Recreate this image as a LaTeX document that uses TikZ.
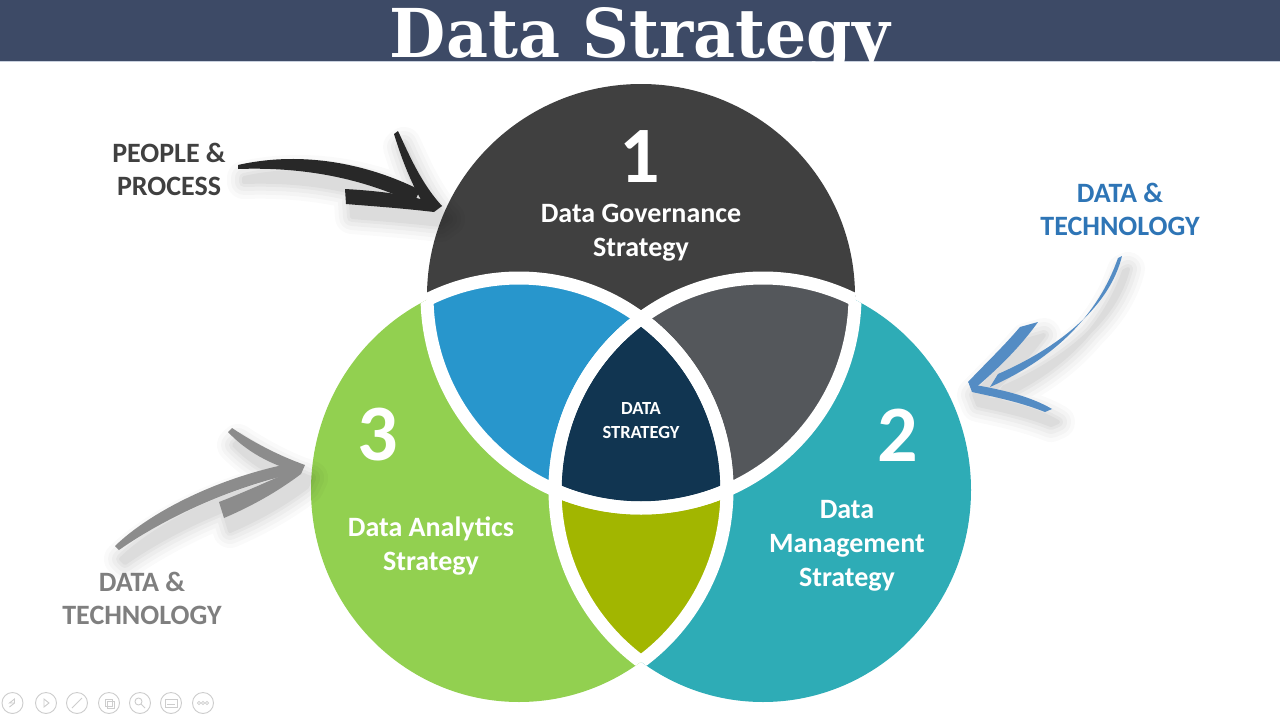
\documentclass[tikz,border=0pt]{standalone}
\usepackage{fontspec}
\usepackage{graphicx}
\newfontfamily\lab{Carlito}
\newfontfamily\ttl{DejaVu Serif}
\definecolor{barcol}{RGB}{61,74,102}
\definecolor{topcol}{RGB}{64,64,64}
\definecolor{greencol}{RGB}{146,208,80}
\definecolor{tealcol}{RGB}{46,172,182}
\definecolor{bluecol}{RGB}{40,150,204}
\definecolor{graycol}{RGB}{84,87,91}
\definecolor{olivecol}{RGB}{162,182,0}
\definecolor{navycol}{RGB}{17,53,81}
\definecolor{ppcol}{RGB}{64,64,64}
\definecolor{dtblue}{RGB}{46,117,182}
\definecolor{dtgray}{RGB}{127,127,127}
\definecolor{arblue}{RGB}{84,140,196}
\definecolor{argray}{RGB}{140,140,140}
\definecolor{arblack}{RGB}{40,40,40}
\definecolor{iconcol}{RGB}{205,205,205}
% brush arrows, each drawn as three filled pieces
\newcommand\arrK[1]{%
  \fill[#1] (238,165) .. controls (295,152) and (360,160) .. (420,190) -- (414,203) .. controls (355,175) and (295,167) .. (238,169) -- cycle;
  \fill[#1] (398,131) .. controls (408,152) and (420,182) .. (442,206) -- (426,208) .. controls (412,186) and (402,160) .. (394,134) -- cycle;
  \fill[#1] (345,189) .. controls (380,191) and (415,195) .. (442,206) -- (434,212) .. controls (400,208) and (370,206) .. (346,204) -- cycle;}
\newcommand\arrB[1]{%
  \fill[#1] (1122,256) .. controls (1110,305) and (1062,346) .. (998,374) -- (990,387) .. controls (1055,358) and (1098,315) .. (1118,258) -- cycle;
  \fill[#1] (1020,327) -- (1038,322) .. controls (1018,350) and (994,372) .. (973,390) -- (968,382) .. controls (985,364) and (1004,346) .. (1020,327) -- cycle;
  \fill[#1] (969,384) .. controls (1000,389) and (1030,396) .. (1052,409) -- (1045,412) .. controls (1020,402) and (995,397) .. (972,392) -- cycle;}
\newcommand\arrG[1]{%
  \fill[#1] (115,546) .. controls (150,512) and (220,476) .. (298,462) -- (296,473) .. controls (220,490) and (156,524) .. (119,550) -- cycle;
  \fill[#1] (232,428) .. controls (256,444) and (280,456) .. (305,465) -- (297,472) .. controls (270,464) and (247,452) .. (228,432) -- cycle;
  \fill[#1] (219,502) .. controls (250,490) and (280,476) .. (305,465) -- (301,474) .. controls (277,492) and (252,506) .. (224,518) -- cycle;}
\newcommand\softshadow[1]{%
  \foreach \w/\o in {34/0.018,26/0.022,18/0.028,10/0.032,4/0.036}{%
    \begin{scope}[shift={(6,13)},transparency group,opacity=\o]
      #1{black,draw=black,line width=\w pt,line join=round}
    \end{scope}}}
\begin{document}
\begin{tikzpicture}[x=1pt,y=-1pt,
  band/.style={draw=white,line width=13pt},
  lbl/.style={text=white,font=\lab\bfseries\fontsize{28}{34}\selectfont,align=center,inner sep=0pt},
  num/.style={text=white,font=\lab\bfseries\fontsize{80}{80}\selectfont,inner sep=0pt},
  small/.style={text=white,font=\lab\bfseries\fontsize{18.5}{24}\selectfont,align=center,inner sep=0pt},
  side/.style={font=\lab\bfseries\fontsize{28}{33}\selectfont,align=center,inner sep=0pt},
  icon/.style={draw=iconcol,line width=0.9pt}]
\useasboundingbox (0,0) rectangle (1280,720);
\fill[white] (0,0) rectangle (1280,720);
% title bar
\fill[barcol] (0,0) rectangle (1280,61);
\draw[color={rgb,255:red,200;green,208;blue,222},line width=1.2pt] (0,61.5) -- (1280,61.5);
\node[anchor=base,inner sep=0pt,text=white] (title) at (640,57) {\resizebox{500pt}{50pt}{\ttl\bfseries Data Strategy}};

% base circles
\fill[greencol] (519,490) ellipse [x radius=208pt, y radius=212pt];
\fill[tealcol] (763,490) ellipse [x radius=208pt, y radius=212pt];
\fill[topcol] (641,296) ellipse [x radius=214pt, y radius=212pt];
% pairwise intersections
\begin{scope}
  \clip (519,490) ellipse [x radius=208pt, y radius=212pt];
  \fill[bluecol] (641,296) ellipse [x radius=214pt, y radius=212pt];
\end{scope}
\begin{scope}
  \clip (763,490) ellipse [x radius=208pt, y radius=212pt];
  \fill[graycol] (641,296) ellipse [x radius=214pt, y radius=212pt];
\end{scope}
\begin{scope}
  \clip (519,490) ellipse [x radius=208pt, y radius=212pt];
  \fill[olivecol] (763,490) ellipse [x radius=208pt, y radius=212pt];
\end{scope}
\begin{scope}
  \clip (519,490) ellipse [x radius=208pt, y radius=212pt];
  \clip (763,490) ellipse [x radius=208pt, y radius=212pt];
  \fill[navycol] (641,296) ellipse [x radius=214pt, y radius=212pt];
\end{scope}
% white bands inside the other circles
\begin{scope}
  \clip (519,490) ellipse [x radius=208pt, y radius=212pt];
  \draw[band] (641,296) ellipse [x radius=214pt, y radius=212pt];
  \draw[band] (763,490) ellipse [x radius=208pt, y radius=212pt];
\end{scope}
\begin{scope}
  \clip (763,490) ellipse [x radius=208pt, y radius=212pt];
  \draw[band] (641,296) ellipse [x radius=214pt, y radius=212pt];
  \draw[band] (519,490) ellipse [x radius=208pt, y radius=212pt];
\end{scope}
\begin{scope}
  \clip (641,296) ellipse [x radius=214pt, y radius=212pt];
  \draw[band] (519,490) ellipse [x radius=208pt, y radius=212pt];
  \draw[band] (763,490) ellipse [x radius=208pt, y radius=212pt];
\end{scope}

% circle texts
\node[num] (n1) at (640,157) {1};
\node[lbl] (gov) at (641,233) {Data Governance\\Strategy};
\node[num] (n2) at (898,435) {2};
\node[lbl] (man) at (847,546) {Data\\Management\\Strategy};
\node[num] (n3) at (378,435) {3};
\node[lbl] (ana) at (431,546) {Data Analytics\\Strategy};
\node[small] (ds) at (641,421) {DATA\\STRATEGY};

% side labels
\node[side,text=ppcol] (pp) at (169,169) {PEOPLE \&\\PROCESS};
\node[side,text=dtblue] (dtr) at (1120,209) {DATA \&\\TECHNOLOGY};
\node[side,text=dtgray] (dtl) at (142,598) {DATA \&\\TECHNOLOGY};

% brush arrows with soft shadows
\softshadow{\arrK}
\softshadow{\arrB}
\softshadow{\arrG}
\arrK{arblack}
\arrB{arblue}
\arrG{argray}

% slideshow controls (bottom left)
\foreach \cx/\nm in {12.5/i1,46/i2,77/i3,109/i4,140/i5,171/i6,203/i7}{
  \node[icon,circle,minimum size=21pt,inner sep=0pt] (\nm) at (\cx,703) {};
}
\draw[icon] ([xshift=2pt]i1.center) -- ([xshift=-3pt]i1.center) -- ([xshift=2pt,yshift=4pt]i1.center) -- cycle;
\draw[icon] ([xshift=-3pt,yshift=-4pt]i1.center) -- ([xshift=2pt]i1.center);
\draw[icon] ([xshift=-2pt,yshift=4pt]i2.center) -- ([xshift=3pt]i2.center) -- ([xshift=-2pt,yshift=-4pt]i2.center) -- cycle;
\draw[icon] ([xshift=-5pt,yshift=-5pt]i3.center) -- ([xshift=5pt,yshift=5pt]i3.center);
\draw[icon] ([xshift=-4pt,yshift=-3pt]i4.center) rectangle ([xshift=3pt,yshift=4pt]i4.center);
\draw[icon] ([xshift=-2pt,yshift=-5pt]i4.center) rectangle ([xshift=5pt,yshift=2pt]i4.center);
\draw[icon] ([xshift=-1.5pt,yshift=1.5pt]i5.center) circle [radius=3.5pt];
\draw[icon] ([xshift=1pt,yshift=-1pt]i5.center) -- ([xshift=5pt,yshift=-5pt]i5.center);
\draw[icon] ([xshift=-6pt,yshift=-4pt]i6.center) rectangle ([xshift=6pt,yshift=4pt]i6.center);
\draw[icon] ([xshift=-4pt,yshift=-1.5pt]i6.center) -- ([xshift=4pt,yshift=-1.5pt]i6.center);
\foreach \dx in {-4,0,4}{\draw[icon,line width=0.6pt] ([xshift=\dx pt]i7.center) circle [radius=1.6pt];}
\end{tikzpicture}
\end{document}
